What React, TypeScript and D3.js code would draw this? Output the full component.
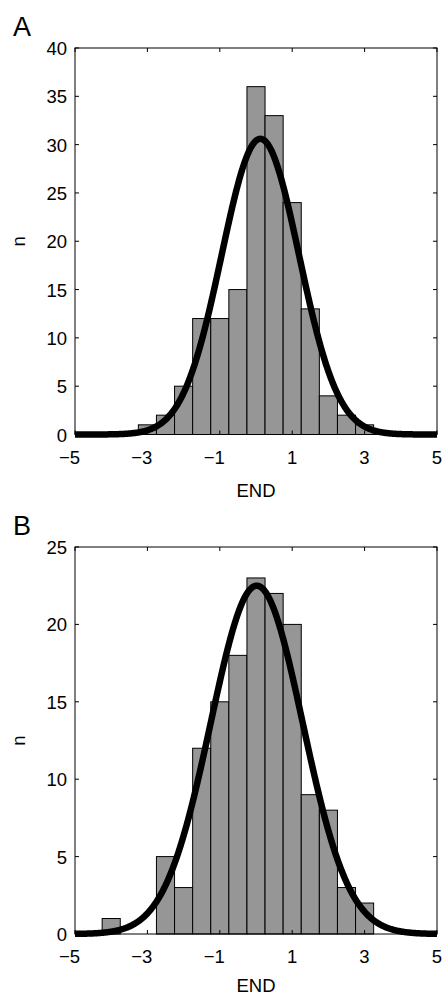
import React from "react";
import * as d3 from "d3";

// ---------- Data ----------
const binCentersA = [-3, -2.5, -2, -1.5, -1, -0.5, 0, 0.5, 1, 1.5, 2, 2.5, 3];
const countsA = [1, 2, 5, 12, 12, 15, 36, 33, 24, 13, 4, 2, 1];
const binCentersB = [-4, -2.5, -2, -1.5, -1, -0.5, 0, 0.5, 1, 1.5, 2, 2.5, 3];
const countsB = [1, 5, 3, 12, 15, 18, 23, 22, 20, 9, 8, 3, 2];
const binWidth = 0.5;

// fitted normal curves: [mean, sd, peak height]
const fitA = { mu: 0.12, sigma: 1.07, peak: 30.6 };
const fitB = { mu: 0.02, sigma: 1.27, peak: 22.5 };

const xTicks = [-5, -3, -1, 1, 3, 5];
const yTicksA = [0, 5, 10, 15, 20, 25, 30, 35, 40];
const yTicksB = [0, 5, 10, 15, 20, 25];
const xLabel = "END";
const yLabel = "n";

const FONT = "'Liberation Sans', Arial, Helvetica, sans-serif";

type PanelProps = {
  letter: string;
  top: number;
  bottom: number;
  yMax: number;
  yTicks: number[];
  centers: number[];
  counts: number[];
  fit: { mu: number; sigma: number; peak: number };
  xLabelOffset: number;
};

function Panel({ letter, top, bottom, yMax, yTicks, centers, counts, fit, xLabelOffset }: PanelProps) {
  const left = 75;
  const right = 437;
  const x = d3.scaleLinear().domain([-5, 5]).range([left, right]);
  const y = d3.scaleLinear().domain([0, yMax]).range([bottom, top]);
  const tick = 4;

  const curvePts = d3.range(-5, 5.0001, 0.02).map((v) => [
    v,
    fit.peak * Math.exp(-((v - fit.mu) ** 2) / (2 * fit.sigma ** 2)),
  ]);
  const line = d3
    .line<number[]>()
    .x((d) => x(d[0]))
    .y((d) => y(d[1]))
    .curve(d3.curveLinear);

  const fs = 18.5;
  return (
    <g>
      <text x={13} y={top - 12} fontFamily={FONT} fontSize={27}>
        {letter}
      </text>
      {/* bars */}
      {centers.map((c, i) => (
        <rect
          key={i}
          x={x(c - binWidth / 2)}
          y={y(counts[i])}
          width={x(c + binWidth / 2) - x(c - binWidth / 2)}
          height={y(0) - y(counts[i])}
          fill="#969696"
          stroke="#000"
          strokeWidth={1}
        />
      ))}
      {/* frame */}
      <rect x={left} y={top} width={right - left} height={bottom - top} fill="none" stroke="#000" strokeWidth={1} />
      {/* x ticks */}
      {xTicks.map((t) => (
        <g key={"x" + t}>
          <line x1={x(t)} x2={x(t)} y1={bottom} y2={bottom - tick} stroke="#000" />
          <line x1={x(t)} x2={x(t)} y1={top} y2={top + tick} stroke="#000" />
          <text
            x={x(t) + 5}
            y={bottom + 29}
            textAnchor="end"
            fontFamily={FONT}
            fontSize={fs}
          >
            {t < 0 ? "\u2212" + Math.abs(t) : String(t)}
          </text>
        </g>
      ))}
      {/* y ticks */}
      {yTicks.map((t) => (
        <g key={"y" + t}>
          <line x1={left} x2={left + tick} y1={y(t)} y2={y(t)} stroke="#000" />
          <line x1={right} x2={right - tick} y1={y(t)} y2={y(t)} stroke="#000" />
          <text x={67} y={y(t) + 7} textAnchor="end" fontFamily={FONT} fontSize={fs}>
            {t}
          </text>
        </g>
      ))}
      {/* fitted curve */}
      <path d={line(curvePts) || ""} fill="none" stroke="#000" strokeWidth={6.5} strokeLinejoin="round" />
      {/* labels */}
      <text
        x={(left + right) / 2}
        y={bottom + xLabelOffset}
        textAnchor="middle"
        fontFamily={FONT}
        fontSize={fs}
      >
        {xLabel}
      </text>
      <text
        transform={`translate(25, ${(top + bottom) / 2}) rotate(-90)`}
        textAnchor="middle"
        fontFamily={FONT}
        fontSize={fs}
      >
        {yLabel}
      </text>
    </g>
  );
}

export default function App() {
  return (
    <svg
      width={445}
      height={995}
      style={{ position: "absolute", left: 0, top: 0, background: "#fff" }}
    >
      <rect width={445} height={995} fill="#fff" />
      <Panel
        letter="A"
        top={48}
        bottom={434.5}
        yMax={40}
        yTicks={yTicksA}
        centers={binCentersA}
        counts={countsA}
        fit={fitA}
        xLabelOffset={62}
      />
      <Panel
        letter="B"
        top={547}
        bottom={934}
        yMax={25}
        yTicks={yTicksB}
        centers={binCentersB}
        counts={countsB}
        fit={fitB}
        xLabelOffset={58}
      />
    </svg>
  );
}
